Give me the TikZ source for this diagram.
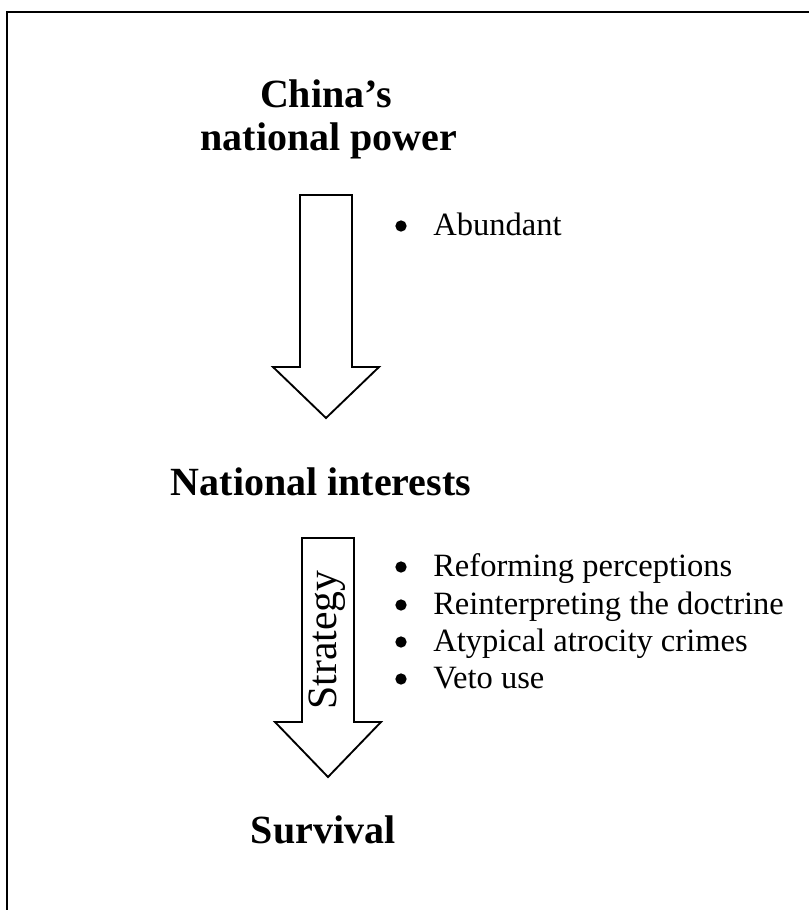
\documentclass[tikz,border=0pt]{standalone}
\usepackage{fontspec}
\setmainfont{Liberation Serif}
\tikzstyle{sketch} = [x = 0.75pt, y = -0.75pt]
\tikzstyle{frameLine} = [color=black, line width=1.5pt]
\tikzstyle{arrowStyle} = [draw=black, fill=white, line width=1.4pt, line join=miter]
\tikzstyle{titleText} = [font=\fontsize{30}{36}\selectfont\bfseries, anchor=base, inner sep=0]
\tikzstyle{itemText} = [font=\fontsize{24.4}{29}\selectfont, anchor=base west, inner sep=0]
\tikzstyle{bulletMark} = [circle, fill=black, minimum size=8.5pt, inner sep=0]
\tikzstyle{strategyText} = [font=\fontsize{31.3}{36}\selectfont, rotate=90, inner sep=0]
\newcommand{\shaftHalf}{26}
\newcommand{\headHalf}{53}
\newcommand{\blockArrow}[4]{\draw [arrowStyle] (#1 - \shaftHalf, #2) -- (#1 + \shaftHalf, #2) -- (#1 + \shaftHalf, #3) -- (#1 + \headHalf, #3) -- (#1, #4) -- (#1 - \headHalf, #3) -- (#1 - \shaftHalf, #3) -- cycle;}
\newcommand{\bulletItem}[3]{\node [bulletMark] (#1Dot) at (401, #2 - 9) {}; \node [itemText] (#1) at (433, #2) {#3};}
\begin{document}
\begin{tikzpicture}[sketch]
  \useasboundingbox (0,0) rectangle (809,910);
  \draw [frameLine] (7,910) -- (7,12) -- (809,12);

  \node [titleText] (chinaTitle) at (326, 107) {China’s};
  \node [titleText] (powerTitle) at (329, 150) {national power};
  \blockArrow{326}{195}{367}{418}
  \bulletItem{abundant}{235}{Abundant}

  \node [titleText] (interestsTitle) at (321, 495) {National interests};
  \blockArrow{328}{538}{722}{777}
  \node [strategyText] (strategy) at (327, 640) {Strategy};
  \bulletItem{reforming}{576}{Reforming perceptions}
  \bulletItem{reinterpreting}{614}{Reinterpreting the doctrine}
  \bulletItem{atypical}{651}{Atypical atrocity crimes}
  \bulletItem{veto}{688}{Veto use}

  \node [titleText] (survivalTitle) at (323, 843) {Survival};
\end{tikzpicture}
\end{document}
